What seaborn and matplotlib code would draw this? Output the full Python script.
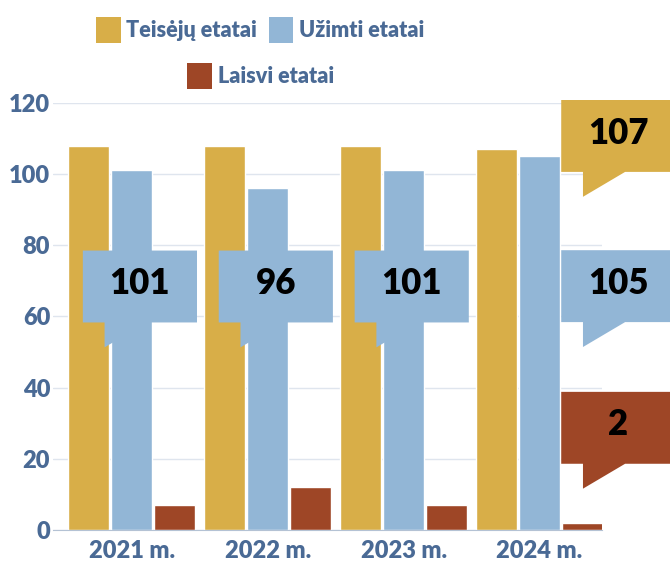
import pandas as pd
import seaborn as sns
import matplotlib.pyplot as plt
from matplotlib.patches import Polygon, Patch

metai = ["2021 m.", "2022 m.", "2023 m.", "2024 m."]
serijos = ["Teisėjų etatai", "Užimti etatai", "Laisvi etatai"]
teiseju = [108, 108, 108, 107]
uzimti = [101, 96, 101, 105]
laisvi = [7, 12, 7, 2]
spalvos = ["#D8AE48", "#92B6D6", "#9E4626"]

rows = []
for i, m in enumerate(metai):
    for s, vals in zip(serijos, [teiseju, uzimti, laisvi]):
        rows.append({"metai": m, "tipas": s, "etatai": vals[i]})
df = pd.DataFrame(rows)

sns.set_style("white")
plt.rcParams["font.family"] = ["Lato", "DejaVu Sans"]
plt.rcParams["font.weight"] = "heavy"
txt_col = "#4A6A95"

fig = plt.figure(figsize=(6.7, 5.62), dpi=100)
ax = fig.add_axes([0.079, 0.057, 0.8195, 0.76])

sns.barplot(data=df, x="metai", y="etatai", hue="tipas", hue_order=serijos,
            palette=spalvos, width=0.95, gap=0.05, saturation=1,
            legend=False, ax=ax, zorder=2)

ax.set_xlim(-0.58, 3.46)
ax.set_ylim(0, 120)
ax.set_yticks(range(0, 121, 20))
ax.grid(axis="y", color="#DFE5EE", lw=1)
ax.set_axisbelow(True)
ax.set_xlabel("")
ax.set_ylabel("")
for sp in ["top", "right", "left"]:
    ax.spines[sp].set_visible(False)
ax.spines["bottom"].set_color("#B4C2D4")
ax.tick_params(axis="both", length=0, labelsize=17, labelcolor=txt_col)
ax.tick_params(axis="x", pad=7)
ax.tick_params(axis="y", pad=2)
for t in ax.get_xticklabels() + ax.get_yticklabels():
    t.set_fontweight("heavy")


# speech-bubble style labels
def burbulas(x0, ytop, color, tekstas):
    w, h = 0.84, 20.2
    yb = ytop - h
    pts = [(x0, ytop), (x0 + w, ytop), (x0 + w, yb), (x0 + 0.47, yb),
           (x0 + 0.16, yb - 7), (x0 + 0.16, yb), (x0, yb)]
    ax.add_patch(Polygon(pts, closed=True, fc=color, ec="none",
                         zorder=5, clip_on=False))
    ax.text(x0 + w / 2, ytop - h / 2 + 0.8, tekstas, ha="center", va="center",
            fontsize=25, fontweight="heavy", color="black", zorder=6,
            clip_on=False)


for i in range(3):
    burbulas(i - 0.36, 78.5, spalvos[1], str(uzimti[i]))

burbulas(3.16, 120.8, spalvos[0], str(teiseju[3]))
burbulas(3.16, 78.6, spalvos[1], str(uzimti[3]))
burbulas(3.16, 38.8, spalvos[2], str(laisvi[3]))

handles = [Patch(fc=c, ec="none") for c in spalvos]
leg_kw = dict(frameon=False, fontsize=15.5, handlelength=1.15, handleheight=1.5,
              handletextpad=0.25, columnspacing=0.55, borderpad=0,
              loc="center")
leg1 = fig.legend(handles[:2], serijos[:2], ncol=2,
                  bbox_to_anchor=(0.388, 0.947), **leg_kw)
leg2 = fig.legend(handles[2:], serijos[2:], ncol=1,
                  bbox_to_anchor=(0.389, 0.865), **leg_kw)
for leg in [leg1, leg2]:
    for t in leg.get_texts():
        t.set_color(txt_col)
        t.set_fontweight("heavy")

fig.savefig("out.png", dpi=100)
